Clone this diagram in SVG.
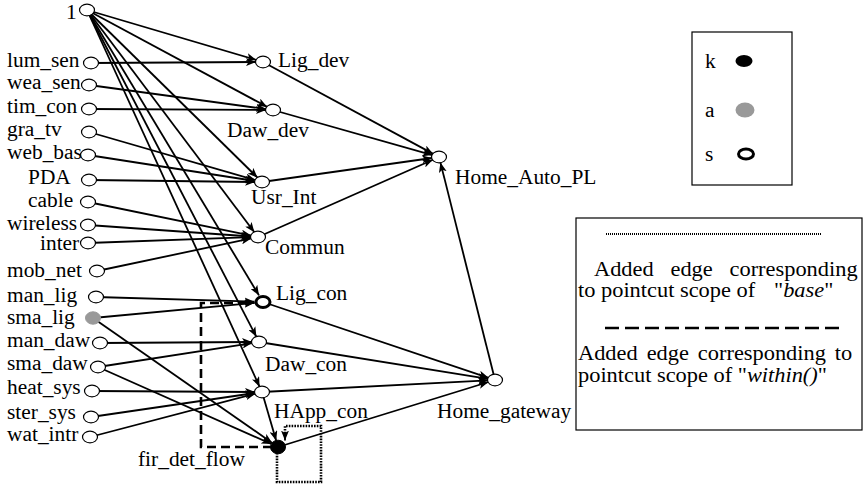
<svg xmlns="http://www.w3.org/2000/svg" width="864" height="485" viewBox="0 0 864 485" font-family="Liberation Serif, Times New Roman, serif" font-size="20">
  <defs>
    <marker id="arr" viewBox="0 0 10 8" refX="10" refY="4" markerWidth="10" markerHeight="8" markerUnits="userSpaceOnUse" orient="auto">
      <path d="M0,0 L10,4 L0,8 L2.5,4 z" fill="#000"/>
    </marker>
    <style>
      text { fill: #000; }
      .it { font-style: italic; }
      .e { fill: none; stroke: #000; stroke-width: 1.8; marker-end: url(#arr); }
      .dash { fill: none; stroke: #000; stroke-width: 2.6; stroke-dasharray: 9 5; }
      .dot { fill: none; stroke: #000; stroke-width: 2.6; stroke-dasharray: 1.6 1.2; }
      .n { fill: #fff; stroke: #000; stroke-width: 1.2; }
      .ns { fill: #fff; stroke: #000; stroke-width: 3; }
      .na { fill: #999; stroke: #999; stroke-width: 1; }
      .nk { fill: #000; stroke: #000; stroke-width: 1; }
    </style>
  </defs>
  <rect width="864" height="485" fill="#fff"/>

  <!-- connectors -->
  <g id="connectors">
    <!-- from node 1 -->
    <line class="e" x1="87" y1="10" x2="256.4" y2="60"/>
    <line class="e" x1="87" y1="10" x2="267.2" y2="106.9"/>
    <line class="e" x1="87" y1="10" x2="257.6" y2="177.7"/>
    <line class="e" x1="87" y1="10" x2="254.4" y2="232.3"/>
    <line class="e" x1="87" y1="10" x2="259" y2="295.4"/>
    <line class="e" x1="87" y1="10" x2="256.4" y2="336.9"/>
    <line class="e" x1="87" y1="10" x2="259.6" y2="386.8"/>
    <!-- sensors and inputs -->
    <line class="e" x1="91" y1="63" x2="256" y2="62"/>
    <line class="e" x1="89" y1="85" x2="266.1" y2="109.1"/>
    <line class="e" x1="89" y1="109" x2="266" y2="110"/>
    <line class="e" x1="89" y1="132" x2="255.4" y2="180.1"/>
    <line class="e" x1="88" y1="155" x2="255.1" y2="181"/>
    <line class="e" x1="89" y1="180" x2="255" y2="182"/>
    <line class="e" x1="88" y1="202" x2="251.2" y2="235.6"/>
    <line class="e" x1="88" y1="225" x2="251" y2="236.5"/>
    <line class="e" x1="88" y1="243" x2="251" y2="237.2"/>
    <line class="e" x1="97" y1="271" x2="251.2" y2="238.4"/>
    <line class="e" x1="96" y1="297" x2="254.5" y2="301.7"/>
    <line class="e" x1="93" y1="318" x2="254.5" y2="302.8"/>
    <line class="e" x1="100" y1="343" x2="252" y2="342"/>
    <line class="e" x1="98" y1="367" x2="252.1" y2="343.1"/>
    <line class="e" x1="92" y1="391" x2="255" y2="392"/>
    <line class="e" x1="91" y1="417" x2="255.1" y2="393"/>
    <line class="e" x1="90" y1="437" x2="255.4" y2="393.7"/>
    <line class="e" x1="93" y1="318" x2="272.2" y2="442.9"/>
    <line class="e" x1="98" y1="367" x2="271.3" y2="444"/>
    <line class="e" x1="262" y1="392" x2="276.2" y2="440.7"/>
    <!-- to Home_Auto_PL -->
    <line class="e" x1="263" y1="62" x2="433.2" y2="153.9"/>
    <line class="e" x1="273" y1="110" x2="432.4" y2="155.1"/>
    <line class="e" x1="262" y1="182" x2="432.1" y2="158"/>
    <line class="e" x1="258" y1="237" x2="432.9" y2="159.7"/>
    <line class="e" x1="495" y1="380" x2="440.4" y2="162.4"/>
    <!-- to Home_gateway -->
    <line class="e" x1="263" y1="302" x2="488.6" y2="377.8"/>
    <line class="e" x1="259" y1="342" x2="488.2" y2="378.9"/>
    <line class="e" x1="262" y1="392" x2="488" y2="380.4"/>
    <line class="e" x1="278" y1="447" x2="488.5" y2="382"/>
    <!-- added edges -->
    <path class="dash" d="M272,447 H201 V303 H248" />
    <line x1="246" y1="303" x2="254.5" y2="303" stroke="#000" stroke-width="2" marker-end="url(#arr)"/>
    <path class="dot" d="M277,453 V482 H321 V426 H285 V436"/>
    <line x1="285" y1="434" x2="285" y2="440.5" stroke="#000" stroke-width="1.8" marker-end="url(#arr)"/>
  </g>

  <!-- nodes -->
  <g id="n1"><ellipse class="n" cx="87" cy="10" rx="7.5" ry="5.8"/><text transform="matrix(1.07 0 0 1 66 19)">1</text></g>
  <g id="lum_sen"><ellipse class="n" cx="91" cy="63" rx="7.5" ry="5.8"/><text transform="matrix(1.07 0 0 1 7 67)">lum_sen</text></g>
  <g id="wea_sen"><ellipse class="n" cx="89" cy="85" rx="7.5" ry="5.8"/><text transform="matrix(1.07 0 0 1 7 89)">wea_sen</text></g>
  <g id="tim_con"><ellipse class="n" cx="89" cy="109" rx="7.5" ry="5.8"/><text transform="matrix(1.07 0 0 1 7 113)">tim_con</text></g>
  <g id="gra_tv"><ellipse class="n" cx="89" cy="132" rx="7.5" ry="5.8"/><text transform="matrix(1.07 0 0 1 7 136)">gra_tv</text></g>
  <g id="web_bas"><ellipse class="n" cx="88" cy="155" rx="7.5" ry="5.8"/><text transform="matrix(1.07 0 0 1 7 159)">web_bas</text></g>
  <g id="PDA"><ellipse class="n" cx="89" cy="180" rx="7.5" ry="5.8"/><text transform="matrix(1.07 0 0 1 28 184)">PDA</text></g>
  <g id="cable"><ellipse class="n" cx="88" cy="202" rx="7.5" ry="5.8"/><text transform="matrix(1.07 0 0 1 28 207)">cable</text></g>
  <g id="wireless"><ellipse class="n" cx="88" cy="225" rx="7.5" ry="5.8"/><text transform="matrix(1.07 0 0 1 7 230)">wireless</text></g>
  <g id="inter"><ellipse class="n" cx="88" cy="243" rx="7.5" ry="5.8"/><text transform="matrix(1.07 0 0 1 40 250)">inter</text></g>
  <g id="mob_net"><ellipse class="n" cx="97" cy="271" rx="7.5" ry="5.8"/><text transform="matrix(1.07 0 0 1 7 277)">mob_net</text></g>
  <g id="man_lig"><ellipse class="n" cx="96" cy="297" rx="7.5" ry="5.8"/><text transform="matrix(1.07 0 0 1 7 302)">man_lig</text></g>
  <g id="sma_lig"><ellipse class="na" cx="93" cy="318" rx="7.5" ry="6.2"/><text transform="matrix(1.07 0 0 1 7 324)">sma_lig</text></g>
  <g id="man_daw"><ellipse class="n" cx="100" cy="343" rx="7.5" ry="5.8"/><text transform="matrix(1.07 0 0 1 7 347)">man_daw</text></g>
  <g id="sma_daw"><ellipse class="n" cx="98" cy="367" rx="7.5" ry="5.8"/><text transform="matrix(1.07 0 0 1 7 370)">sma_daw</text></g>
  <g id="heat_sys"><ellipse class="n" cx="92" cy="391" rx="7.5" ry="5.8"/><text transform="matrix(1.07 0 0 1 7 394)">heat_sys</text></g>
  <g id="ster_sys"><ellipse class="n" cx="91" cy="417" rx="7.5" ry="5.8"/><text transform="matrix(1.07 0 0 1 7 419)">ster_sys</text></g>
  <g id="wat_intr"><ellipse class="n" cx="90" cy="437" rx="7.5" ry="5.8"/><text transform="matrix(1.07 0 0 1 7 441)">wat_intr</text></g>

  <g id="Lig_dev"><ellipse class="n" cx="263" cy="62" rx="7.5" ry="5.8"/><text transform="matrix(1.07 0 0 1 278 67)">Lig_dev</text></g>
  <g id="Daw_dev"><ellipse class="n" cx="273" cy="110" rx="7.5" ry="5.8"/><text transform="matrix(1.07 0 0 1 227 137)">Daw_dev</text></g>
  <g id="Usr_Int"><ellipse class="n" cx="262" cy="182" rx="7.5" ry="5.8"/><text transform="matrix(1.07 0 0 1 251 204)">Usr_Int</text></g>
  <g id="Commun"><ellipse class="n" cx="258" cy="237" rx="7.5" ry="5.8"/><text transform="matrix(1.07 0 0 1 265 254)">Commun</text></g>
  <g id="Lig_con"><ellipse class="ns" cx="263" cy="302" rx="7" ry="5.5"/><text transform="matrix(1.07 0 0 1 276 300)">Lig_con</text></g>
  <g id="Daw_con"><ellipse class="n" cx="259" cy="342" rx="7.5" ry="5.8"/><text transform="matrix(1.07 0 0 1 265 371)">Daw_con</text></g>
  <g id="HApp_con"><ellipse class="n" cx="262" cy="392" rx="7.5" ry="5.8"/><text transform="matrix(1.07 0 0 1 274 418)">HApp_con</text></g>
  <g id="fir_det_flow"><ellipse class="nk" cx="278" cy="447" rx="7.5" ry="6.8"/><text transform="matrix(1.07 0 0 1 138 466)">fir_det_flow</text></g>
  <g id="Home_Auto_PL"><ellipse class="n" cx="439" cy="157" rx="7.5" ry="5.8"/><text transform="matrix(1.07 0 0 1 455 184)">Home_Auto_PL</text></g>
  <g id="Home_gateway"><ellipse class="n" cx="495" cy="380" rx="7.5" ry="5.8"/><text transform="matrix(1.07 0 0 1 437 418)">Home_gateway</text></g>

  <!-- legend: node kinds -->
  <g id="legend-kinds">
    <rect x="692" y="32" width="100" height="153" fill="none" stroke="#000" stroke-width="1.2"/>
    <text transform="matrix(1.07 0 0 1 705 68)">k</text>
    <ellipse cx="744" cy="61" rx="8.5" ry="6" fill="#000"/>
    <text transform="matrix(1.07 0 0 1 705 117)">a</text>
    <ellipse cx="745" cy="110" rx="9.5" ry="7.5" fill="#999"/>
    <text transform="matrix(1.07 0 0 1 705 161)">s</text>
    <ellipse cx="746" cy="154" rx="7.5" ry="5" fill="#fff" stroke="#000" stroke-width="3"/>
  </g>

  <!-- legend: added edge styles -->
  <g id="legend-edges">
    <rect x="576" y="218" width="286" height="212" fill="none" stroke="#000" stroke-width="1.2"/>
    <line x1="606" y1="234" x2="822" y2="234" stroke="#000" stroke-width="2" stroke-dasharray="1 1"/>
    <text transform="matrix(1.12 0 0 1 594 276)" word-spacing="10">Added edge corresponding</text>
    <text transform="matrix(1.12 0 0 1 578 297)">to pointcut scope of</text>
    <text transform="matrix(1.12 0 0 1 774 297)">"<tspan class="it">base</tspan>"</text>
    <line x1="605" y1="328" x2="842" y2="328" stroke="#000" stroke-width="2.6" stroke-dasharray="14 6"/>
    <text transform="matrix(1.12 0 0 1 578 360)" word-spacing="3">Added edge corresponding to</text>
    <text transform="matrix(1.12 0 0 1 578 382)">pointcut scope of "<tspan class="it">within()</tspan>"</text>
  </g>
</svg>
